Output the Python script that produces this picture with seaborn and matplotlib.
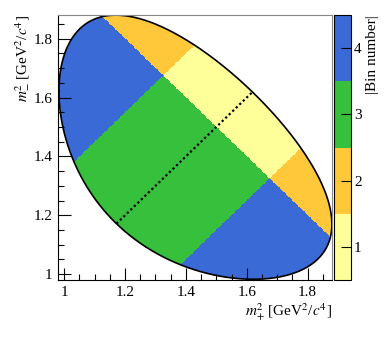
import numpy as np
import pandas as pd
import matplotlib
matplotlib.use("Agg")
import matplotlib.pyplot as plt
from matplotlib.colors import ListedColormap
from matplotlib.ticker import MultipleLocator
import seaborn as sns

# D0 -> K0S K+ K- kinematics (GeV)
M_D = 1.86484
M_KS = 0.497611
M_K = 0.493677

# bin layout: lines x+y = 3.0 and |y-x| = 0.35
SUM_CUT = 3.0
DIFF_CUT = 0.35
bin_numbers = [1, 2, 3, 4]
bin_colors = ["#ffff99", "#ffc83a", "#36c03b", "#3a6ad6"]
x_ticks = [1.0, 1.2, 1.4, 1.6, 1.8]
y_ticks = [1.0, 1.2, 1.4, 1.6, 1.8]
tick_labels = ["1", "1.2", "1.4", "1.6", "1.8"]
axis_range = (0.98, 1.88)


def dalitz_limits(x):
    # m^2(KS K-) range for fixed m^2(KS K+)
    m = np.sqrt(x)
    e_ks = (x - M_K**2 + M_KS**2) / (2 * m)
    e_k = (M_D**2 - x - M_K**2) / (2 * m)
    p_ks = np.sqrt(np.clip(e_ks**2 - M_KS**2, 0, None))
    p_k = np.sqrt(np.clip(e_k**2 - M_K**2, 0, None))
    lo = (e_ks + e_k) ** 2 - (p_ks + p_k) ** 2
    hi = (e_ks + e_k) ** 2 - (p_ks - p_k) ** 2
    return lo, hi


def bin_of(x, y):
    outer = np.abs(y - x) > DIFF_CUT
    low = (x + y) < SUM_CUT
    return np.where(outer, np.where(low, 4, 2), np.where(low, 3, 1))


n_cells = 220
edges = np.linspace(*axis_range, n_cells + 1)
centres = 0.5 * (edges[1:] + edges[:-1])
gx, gy = np.meshgrid(centres, centres)
gx, gy = gx.ravel(), gy.ravel()
xmin, xmax = (M_KS + M_K) ** 2, (M_D - M_K) ** 2
inside = (gx > xmin) & (gx < xmax)
lo, hi = dalitz_limits(np.clip(gx, xmin, xmax))
inside &= (gy > lo) & (gy < hi)
df = pd.DataFrame({"mp": gx[inside], "mm": gy[inside]})
df["bin"] = bin_of(df["mp"].values, df["mm"].values)

plt.rcParams["font.family"] = ["Liberation Serif", "DejaVu Serif"]
plt.rcParams["mathtext.fontset"] = "stix"

fig = plt.figure(figsize=(3.9, 3.37), dpi=100)
ax = fig.add_axes([0.149, 0.169, 0.702, 0.786])
cax = fig.add_axes([0.857, 0.169, 0.044, 0.786])

cmap = ListedColormap(bin_colors)
sns.histplot(data=df, x="mp", y="mm", weights="bin", bins=[edges, edges],
             cmap=cmap, vmin=0.5, vmax=4.5, cbar=True, cbar_ax=cax, ax=ax)

# Dalitz boundary
xb = np.linspace(xmin, xmax, 2000)
lo_b, hi_b = dalitz_limits(xb)
ax.plot(np.r_[xb, xb[::-1], xb[0]], np.r_[lo_b, hi_b[::-1], lo_b[0]],
        color="black", lw=1.2)

# dotted line along m+^2 = m-^2
diag_hi = xb[np.argmin(np.abs(hi_b - xb))]
diag_lo = xb[np.argmin(np.abs(lo_b - xb))]
ax.plot([diag_lo, diag_hi], [diag_lo, diag_hi], color="black", ls=(0, (1, 1.2)), lw=1.6)

ax.set_xlim(axis_range)
ax.set_ylim(axis_range)
ax.set_xticks(x_ticks)
ax.set_yticks(y_ticks)
ax.set_xticklabels(tick_labels)
ax.set_yticklabels(tick_labels)
ax.xaxis.set_minor_locator(MultipleLocator(0.05))
ax.yaxis.set_minor_locator(MultipleLocator(0.05))
ax.tick_params(which="both", direction="in", labelsize=11, top=False, right=False)
ax.tick_params(which="major", length=9, width=0.8, pad=4)
ax.tick_params(which="minor", length=4.5, width=0.8)
for side in ["top", "right"]:
    ax.spines[side].set_color("#888888")

ax.set_xlabel(r"$m_{+}^{2}$ [GeV$^{2}$/$c^{4}$]", fontsize=11, loc="right", labelpad=2)
ax.set_ylabel(r"$m_{-}^{2}$ [GeV$^{2}$/$c^{4}$]", fontsize=11, loc="top", labelpad=2)

cbar = ax.collections[0].colorbar
cbar.set_ticks(bin_numbers)
cbar.ax.tick_params(direction="in", length=7, labelsize=11, pad=2)
cbar.outline.set_linewidth(0.8)
cbar.set_label("|Bin number|", fontsize=11, loc="top", labelpad=3)

fig.savefig("out.png", dpi=100)
